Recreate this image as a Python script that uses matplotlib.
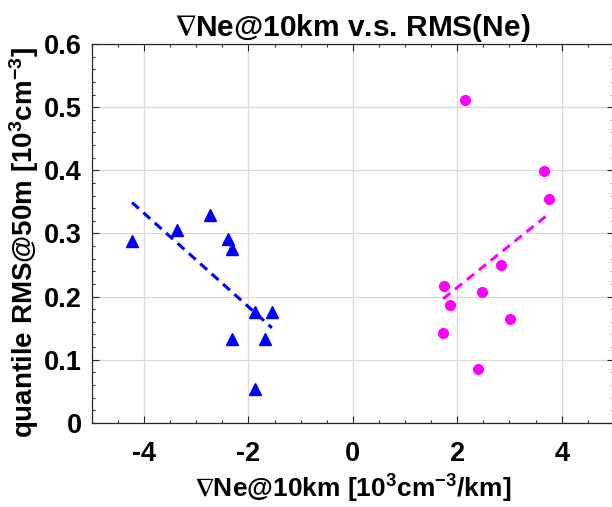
import numpy as np
import matplotlib
matplotlib.use('Agg')
import matplotlib.pyplot as plt
from matplotlib.ticker import MultipleLocator

plt.rcParams['font.family'] = ['Liberation Sans', 'DejaVu Sans']
plt.rcParams['font.weight'] = 'bold'
plt.rcParams['mathtext.default'] = 'regular'
plt.rcParams['axes.unicode_minus'] = False

# negative gradient group (blue triangles)
grad_neg = [-4.23, -3.37, -2.74, -2.40, -2.31, -2.31, -1.88, -1.55, -1.68, -1.88]
rms_neg = [0.288, 0.306, 0.329, 0.291, 0.276, 0.133, 0.175, 0.176, 0.133, 0.054]

# positive gradient group (magenta circles)
grad_pos = [2.84, 1.75, 2.47, 1.87, 3.02, 1.73, 2.40, 2.14, 3.66, 3.75]
rms_pos = [0.250, 0.217, 0.208, 0.186, 0.165, 0.143, 0.085, 0.511, 0.399, 0.354]

x_ticks = [-4, -2, 0, 2, 4]
y_ticks = [0, 0.1, 0.2, 0.3, 0.4, 0.5, 0.6]
y_tick_labels = ['0', '0.1', '0.2', '0.3', '0.4', '0.5', '0.6']


def fit_line(x, y):
    x = np.asarray(x)
    p = np.polyfit(x, np.asarray(y), 1)
    xx = np.array([x.min(), x.max()])
    return xx, np.polyval(p, xx)


fig = plt.figure(figsize=(6.12, 5.07), dpi=100)
ax = fig.add_axes([0.150, 0.166, 0.853, 0.747])

ax.plot(grad_neg, rms_neg, '^', color='#0000ff', ms=9, mec='#0000ff', zorder=3)
ax.plot(grad_pos, rms_pos, 'o', color='#ff00ff', ms=7, mec='#ff00ff', zorder=3)

xf, yf = fit_line(grad_neg, rms_neg)
ax.plot(xf, yf, '--', color='#0000ff', lw=2.2, dashes=(3, 2), zorder=2)
xf, yf = fit_line(grad_pos, rms_pos)
ax.plot(xf, yf, '--', color='#ff00ff', lw=2.2, dashes=(3, 2), zorder=2)

ax.set_xlim(-5, 5)
ax.set_ylim(0, 0.6)
ax.set_xticks(x_ticks)
ax.set_yticks(y_ticks)
ax.set_yticklabels(y_tick_labels)
ax.xaxis.set_minor_locator(MultipleLocator(0.5))
ax.yaxis.set_minor_locator(MultipleLocator(0.02))
ax.tick_params(which='both', direction='in', top=True, right=True, colors='#262626',
               labelsize=19.5, width=0.8)
ax.tick_params(which='major', length=5)
ax.tick_params(which='minor', length=2.5)
for lab in ax.get_xticklabels() + ax.get_yticklabels():
    lab.set_fontweight('bold')
    lab.set_color('black')
ax.tick_params(axis='x', pad=13)
ax.tick_params(axis='y', pad=7)
ax.grid(True, which='major', color='#d9d9d9', lw=0.9)
ax.set_axisbelow(True)
for s in ax.spines.values():
    s.set_color('#262626')
    s.set_linewidth(0.9)

ax.set_title(r'$\nabla$Ne@10km v.s. RMS(Ne)', fontsize=21.5, fontweight='bold', pad=3)
ax.set_xlabel(r'$\nabla$Ne@10km [10$^{3}$cm$^{-3}$/km]', fontsize=19, fontweight='bold', labelpad=4)
ax.set_ylabel('quantile RMS@50m [10$^{3}$cm$^{-3}$]', fontsize=20, fontweight='bold')
ax.yaxis.set_label_coords(-0.098, 0.475)

fig.savefig('out.png', dpi=100)
